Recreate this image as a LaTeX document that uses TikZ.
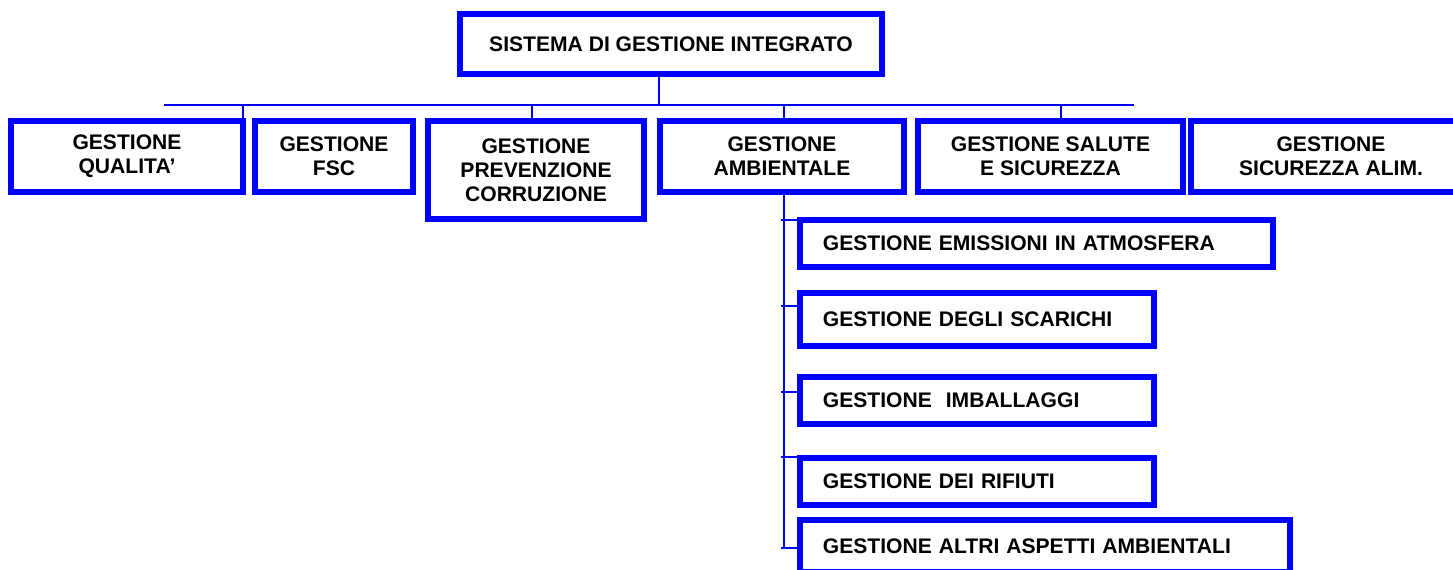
\documentclass[tikz,border=0pt]{standalone}
\usepackage{fontspec}
\setmainfont{Liberation Sans}
\begin{document}
\begin{tikzpicture}[x=0.02cm,y=-0.02cm,
  box/.style={draw=blue,line width=0.114cm,inner sep=0pt,align=center,font=\bfseries\fontsize{12}{13.7}\selectfont},
  sub/.style={box,anchor=west,align=left,inner xsep=0.46cm},
  link/.style={draw=blue,line width=0.035cm}]
\useasboundingbox (0,0) rectangle (1453,569);
% top and first level
\node[box,minimum width=8.45cm,minimum height=1.21cm] (S) at (671,44) {SISTEMA DI GESTIONE INTEGRATO};
\node[box,minimum width=4.65cm,minimum height=1.43cm] (Q) at (127,156.5) {GESTIONE\\QUALITA’};
\node[box,minimum width=3.17cm,minimum height=1.43cm] (F) at (334,156.5) {GESTIONE\\FSC};
\node[box,minimum width=4.33cm,minimum height=1.97cm] (P) at (536,170) {GESTIONE\\PREVENZIONE\\CORRUZIONE};
\node[box,minimum width=4.89cm,minimum height=1.43cm] (A) at (782,156.5) {GESTIONE\\AMBIENTALE};
\node[box,minimum width=5.31cm,minimum height=1.43cm] (SS) at (1050.5,156.5) {GESTIONE SALUTE\\E SICUREZZA};
\node[box,minimum width=5.6cm,minimum height=1.43cm] (SA) at (1331,156.5) {GESTIONE\\SICUREZZA ALIM.};
% second level
\node[sub,text width=8.55cm,minimum height=0.95cm] (E) at (797,243.5) {GESTIONE EMISSIONI IN ATMOSFERA};
\node[sub,text width=6.17cm,minimum height=1.07cm] (D) at (797,319.5) {GESTIONE DEGLI SCARICHI};
\node[sub,text width=6.17cm,minimum height=0.95cm] (I) at (797,400.5) {GESTIONE\ \ IMBALLAGGI};
\node[sub,text width=6.17cm,minimum height=0.95cm] (R) at (797,481.5) {GESTIONE DEI RIFIUTI};
\node[sub,text width=8.89cm,minimum height=1.05cm] (G) at (797,546) {GESTIONE ALTRI ASPETTI AMBIENTALI};
% connectors
\coordinate (H) at (659,105);
\coordinate (L) at (164,105);
\coordinate (Rt) at (1134,105);
\coordinate (T) at (784,548);
\draw[link] (S.south -| H) -- (H);
\draw[link] (L) -- (Rt);
\foreach \n/\x in {Q/243,P/532,A/784,SS/1061}
  \draw[link] (\x,105) -- (\n.north -| \x,0);
\draw[link] (A.south -| T) -- (T);
\foreach \n/\y in {E/220,D/306,I/392,R/457,G/548}
  \draw[link] (781,\y) -- (\n.west |- 0,\y);
\end{tikzpicture}
\end{document}
